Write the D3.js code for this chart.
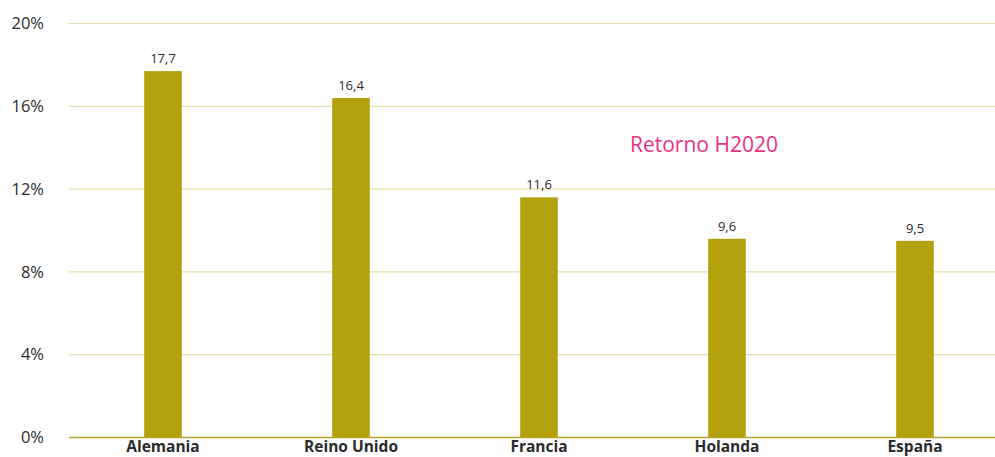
<!DOCTYPE html>
<html><head><meta charset="utf-8">
<script src="https://cdn.jsdelivr.net/npm/d3@7"></script>
<style>body{margin:0;background:#fff;}svg{display:block;}</style>
</head><body>
<svg id="c" width="995" height="457"></svg>
<script>
const categories = ["Alemania","Reino Unido","Francia","Holanda","España"];
const values = [17.7,16.4,11.6,9.6,9.5];
const yTicks = [0,4,8,12,16,20];
const valueLabels = ["17,7","16,4","11,6","9,6","9,5"];
const legendLabel = "Retorno H2020";

(function(){
const svg = d3.select("#c");
const W = 995, H = 457;
const mLeft = 69, mRight = 1009, mTop = 23.5, mBottom = 437.5;
const font = "'Open Sans', Lato, sans-serif";

const x = d3.scalePoint().domain(categories).range([mLeft, mRight]).padding(0.5);
const y = d3.scaleLinear().domain([0,20]).range([mBottom, mTop]);
const bw = x.step()*0.2;

svg.append("g").selectAll("line").data(yTicks.filter(d=>d>0)).join("line")
  .attr("x1", mLeft).attr("x2", W).attr("y1", d=>y(d)).attr("y2", d=>y(d))
  .attr("stroke", "#e8dcae").attr("stroke-width", 1.2);

svg.append("g").selectAll("text").data(yTicks).join("text")
  .attr("x", 44).attr("y", d=>y(d)).attr("dy","0.35em")
  .attr("text-anchor","end").attr("font-family",font).attr("font-size",16.5)
  .attr("fill","#2b2b2b").text(d=>d+"%");

svg.append("g").selectAll("rect").data(values).join("rect")
  .attr("x",(d,i)=>x(categories[i])-bw/2).attr("width",bw)
  .attr("y",d=>y(d)).attr("height",d=>y(0)-y(d))
  .attr("fill","#b5a00e");

svg.append("g").selectAll("text").data(values).join("text")
  .attr("x",(d,i)=>x(categories[i])).attr("y",d=>y(d)-8)
  .attr("text-anchor","middle").attr("font-family",font).attr("font-size",13)
  .attr("fill","#2b2b2b").text((d,i)=>valueLabels[i]);

svg.append("line").attr("x1",mLeft).attr("x2",W).attr("y1",y(0)).attr("y2",y(0))
  .attr("stroke","#b8a52a").attr("stroke-width",1.5);

svg.append("g").selectAll("text").data(categories).join("text")
  .attr("x",d=>x(d)).attr("y",452)
  .attr("text-anchor","middle").attr("font-family",font).attr("font-size",15.5)
  .attr("font-weight","bold").attr("fill","#2b2b2b").text(d=>d);

svg.append("text").attr("x",630).attr("y",152).attr("font-family",font)
  .attr("font-size",21).attr("fill","#e8327f").text(legendLabel);
})();
</script>
</body></html>
